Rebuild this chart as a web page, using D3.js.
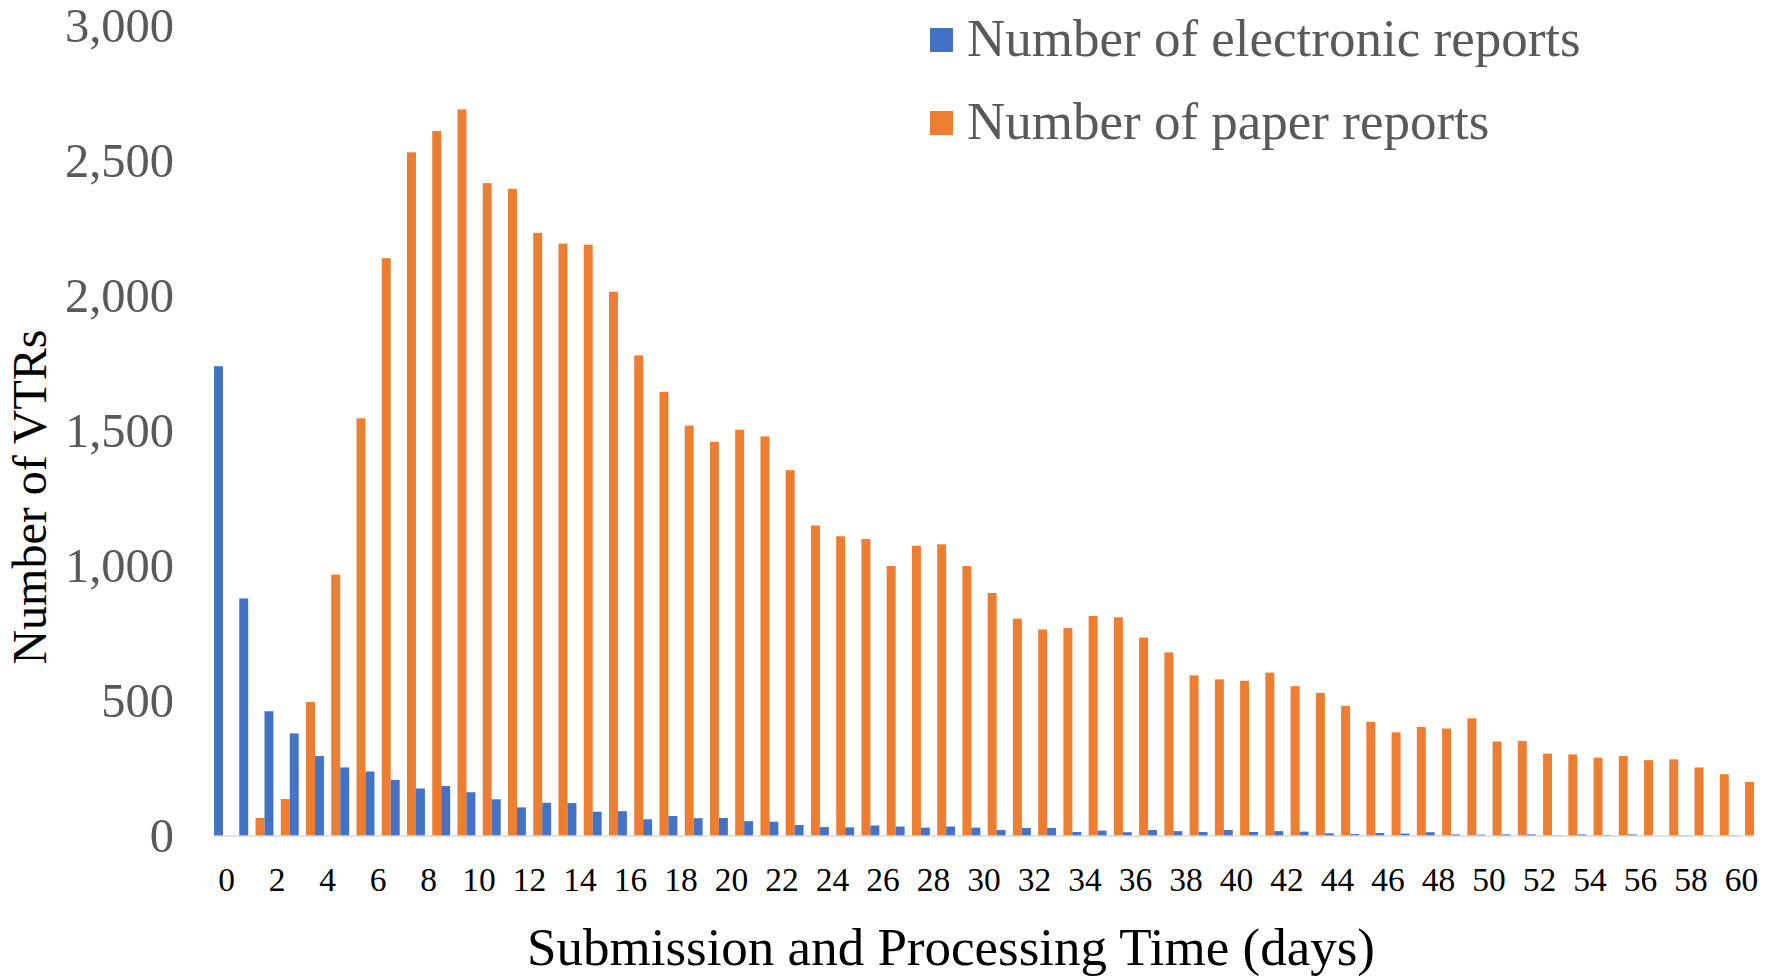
<!DOCTYPE html>
<html>
<head>
<meta charset="utf-8">
<script src="https://cdn.jsdelivr.net/npm/d3@7"></script>
<style>
  body { margin: 0; background: #fff; }
  svg { display: block; font-family: "Liberation Serif", "Times New Roman", serif; }
</style>
</head>
<body>
<div id="chart"></div>
<script>
// days 0..60 on the x axis
const days = d3.range(0, 61)
const yTicks = [0, 500, 1000, 1500, 2000, 2500, 3000]
const seriesNames = ['Number of electronic reports', 'Number of paper reports']

const electronic = [1740, 880, 462, 380, 296, 254, 239, 208, 176, 185,
  162, 136, 106, 123, 122, 90, 92, 62, 74, 66,
  67, 55, 53, 41, 33, 32, 39, 35, 31, 35,
  31, 22, 30, 30, 15, 20, 14, 22, 18, 15,
  22, 15, 18, 16, 10, 7, 11, 9, 14, 6,
  5, 6, 6, 2, 6, 4, 6, 0, 3, 2, 3]

const paper = [0, 67, 137, 496, 968, 1547, 2140, 2532, 2611, 2691,
  2418, 2397, 2234, 2194, 2190, 2016, 1780, 1645, 1520, 1460,
  1505, 1480, 1355, 1150, 1110, 1100, 1000, 1075, 1080, 1000,
  900, 805, 765, 770, 815, 810, 735, 680, 595, 580,
  575, 605, 555, 530, 482, 423, 384, 404, 398, 436,
  350, 352, 305, 302, 290, 296, 281, 284, 254, 229, 200]

const colors = ['#4472C4', '#ED7D31']

const size = { width: 1777, height: 980 }
const plot = { left: 214, right: 1754, top: 26, bottom: 836 }

const svg = d3.select('#chart')
  .append('svg')
  .attr('width', size.width)
  .attr('height', size.height)

const x = d3.scaleBand()
  .domain(days)
  .range([plot.left, plot.right])
  .padding(0)

// two bars per day, with a gap between them
const xs = d3.scaleBand()
  .domain([0, 1])
  .range([0, x.bandwidth()])
  .paddingInner(0.45)
  .paddingOuter(0)

const y = d3.scaleLinear()
  .domain([0, 3000])
  .range([plot.bottom, plot.top])

const rows = days.map((d, i) => ({ day: d, values: [electronic[i], paper[i]] }))

const groups = svg.append('g')
  .selectAll('g')
  .data(rows)
  .enter()
  .append('g')
  .attr('transform', d => `translate(${x(d.day)},0)`)

groups.selectAll('rect')
  .data(d => d.values.map((v, k) => ({ k, v })))
  .enter()
  .append('rect')
  .attr('x', d => xs(d.k))
  .attr('width', xs.bandwidth())
  .attr('y', d => y(d.v))
  .attr('height', d => y(0) - y(d.v))
  .attr('fill', d => colors[d.k])

// baseline
svg.append('line')
  .attr('x1', plot.left)
  .attr('x2', plot.right)
  .attr('y1', y(0))
  .attr('y2', y(0))
  .attr('stroke', '#d9d9d9')
  .attr('stroke-width', 1.5)

// y axis (labels only)
const yAxis = svg.append('g')
  .attr('transform', `translate(${plot.left},0)`)
  .call(d3.axisLeft(y).tickValues(yTicks).tickFormat(d3.format(',')).tickSize(0).tickPadding(40))
yAxis.select('.domain').remove()
yAxis.selectAll('text')
  .attr('font-family', '"Liberation Serif", serif')
  .attr('font-size', 48.5)
  .attr('fill', '#595959')

// x axis (every second day)
const xAxis = svg.append('g')
  .attr('transform', `translate(0,${plot.bottom})`)
  .call(d3.axisBottom(x).tickValues(days.filter(d => d % 2 === 0)).tickSize(0).tickPadding(31))
xAxis.select('.domain').remove()
xAxis.selectAll('text')
  .attr('font-family', '"Liberation Serif", serif')
  .attr('font-size', 33.5)
  .attr('fill', '#000')

// axis titles
svg.append('text')
  .attr('x', 951)
  .attr('y', 965)
  .attr('text-anchor', 'middle')
  .attr('font-size', 53)
  .attr('fill', '#000')
  .text('Submission and Processing Time (days)')

svg.append('text')
  .attr('transform', 'translate(46,497) rotate(-90)')
  .attr('text-anchor', 'middle')
  .attr('font-size', 48)
  .attr('fill', '#000')
  .text('Number of VTRs')

// legend
const legend = svg.append('g')
  .attr('transform', 'translate(930,0)')

const items = legend.selectAll('g')
  .data(seriesNames)
  .enter()
  .append('g')
  .attr('transform', (d, i) => `translate(0,${28 + i * 83})`)

items.append('rect')
  .attr('width', 23)
  .attr('height', 24)
  .attr('fill', (d, i) => colors[i])

items.append('text')
  .attr('x', 37)
  .attr('y', 28)
  .attr('font-size', 53)
  .attr('fill', '#595959')
  .text(d => d)
</script>
</body>
</html>
